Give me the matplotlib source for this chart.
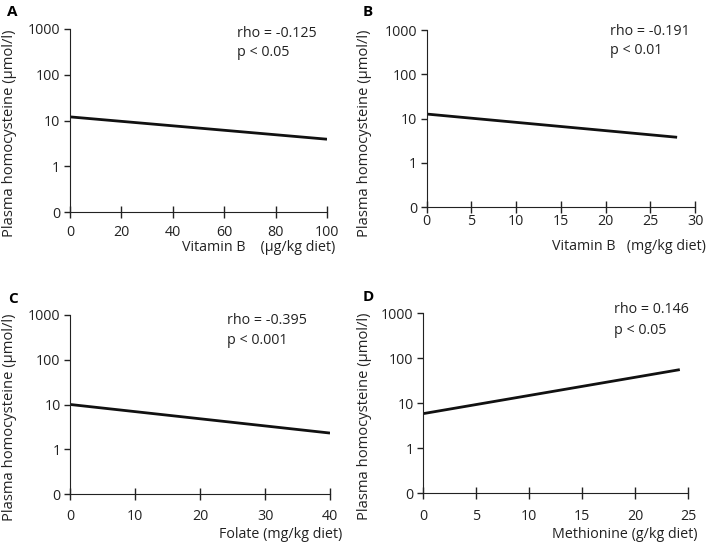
import matplotlib
matplotlib.use('Agg')
import matplotlib.pyplot as plt
import matplotlib.ticker as ticker

plt.rcParams['font.family'] = ['Open Sans', 'DejaVu Sans']
plt.rcParams['font.size'] = 10.3

# endpoints of regression lines
x_a = [0, 100]
y_a = [12, 3.9]
x_b = [0, 28]
y_b = [12.7, 3.8]
x_c = [0, 40]
y_c = [10, 2.3]
x_d = [0, 24.2]
y_d = [5.9, 56]

y_ticks = [0.1, 1, 10, 100, 1000]
y_tick_labels = ['0', '1', '10', '100', '1000']

panels = [
    # letter, x, y, xticks, xlabel, rho, p, axes rect, rho pos, letter pos, xlabel pos, tick pad, ylabel pos
    ('A', x_a, y_a, [0, 20, 40, 60, 80, 100], 'Vitamin B    (\u00b5g/kg diet)', 'rho = -0.125', 'p < 0.05',
     [70/710, 1-212/544, 257/710, 183/544], (0.65, 0.978, 0.87), (12.5, 12), (335, 248), 5.5, (10, 133)),
    ('B', x_b, y_b, [0, 5, 10, 15, 20, 25, 30], 'Vitamin B   (mg/kg diet)', 'rho = -0.191', 'p < 0.01',
     [426.7/710, 1-207.3/544, 268.3/710, 177.3/544], (0.683, 0.99, 0.887), (368, 12), (706, 247), 1, (365, 133)),
    ('C', x_c, y_c, [0, 10, 20, 30, 40], 'Folate (mg/kg diet)', 'rho = -0.395', 'p < 0.001',
     [70.3/710, 1-494/544, 259.7/710, 179/544], (0.602, 0.972, 0.86), (13, 299), (342, 535), 6.5, (10, 417)),
    ('D', x_d, y_d, [0, 5, 10, 15, 20, 25], 'Methionine (g/kg diet)', 'rho = 0.146', 'p < 0.05',
     [423.3/710, 1-493.3/544, 265/710, 180/544], (0.72, 1.022, 0.907), (368, 297), (698, 535), 7, (365, 416)),
]

fig = plt.figure(figsize=(7.1, 5.44), dpi=100)

for letter, xs, ys, xt, xlab, rho, p, rect, tpos, lpos, xlpos, pad, ylpos in panels:
    ax = fig.add_axes(rect)
    ax.plot(xs, ys, color='#111111', lw=2.0, solid_capstyle='butt')
    ax.set_yscale('log')
    ax.set_ylim(0.1, 1000)
    ax.set_xlim(xt[0], xt[-1])
    ax.yaxis.set_major_locator(ticker.FixedLocator(y_ticks))
    ax.yaxis.set_minor_locator(ticker.NullLocator())
    ax.set_yticklabels(y_tick_labels)
    ax.set_xticks(xt)
    ax.spines['top'].set_visible(False)
    ax.spines['right'].set_visible(False)
    ax.spines['left'].set_color('#222222')
    ax.spines['bottom'].set_color('#222222')
    ax.tick_params(axis='x', direction='inout', length=8, width=1, pad=pad, colors='#222222', labelcolor='#222222')
    ax.tick_params(axis='y', direction='out', length=4, width=1, pad=3, colors='#222222', labelcolor='#222222')
    ax.text(tpos[0], tpos[1], rho, transform=ax.transAxes, va='center', ha='left', color='#222222')
    ax.text(tpos[0], tpos[2], p, transform=ax.transAxes, va='center', ha='left', color='#222222')
    fig.text(lpos[0]/710, 1-lpos[1]/544, letter, ha='center', va='center', fontweight='bold', fontsize=11)
    fig.text(xlpos[0]/710, 1-xlpos[1]/544, xlab, ha='right', va='center', color='#222222')
    fig.text(ylpos[0]/710, 1-ylpos[1]/544, 'Plasma homocysteine (\u00b5mol/l)', rotation=90,
             ha='center', va='center', color='#222222', fontsize=10.6)

fig.savefig('out.png', dpi=100)
